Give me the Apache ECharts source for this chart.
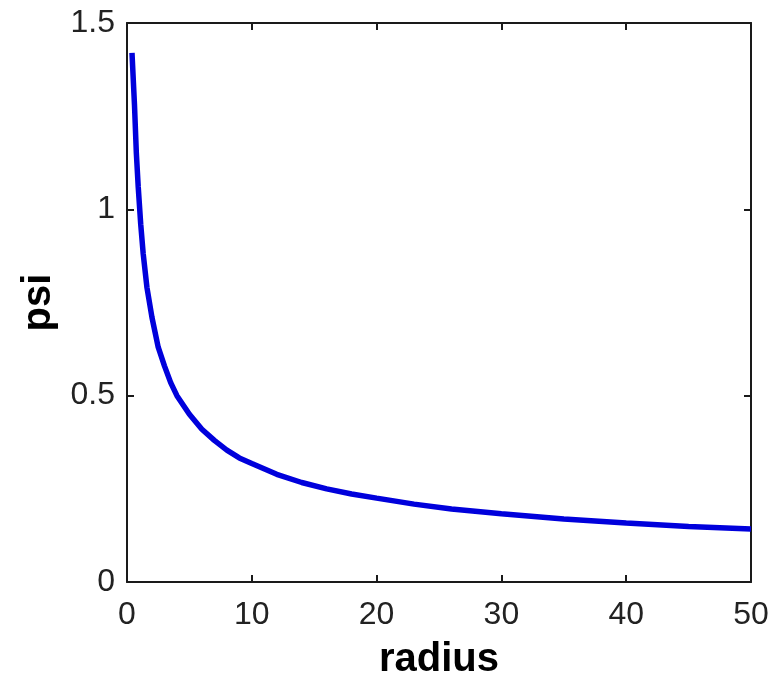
<!DOCTYPE html>
<html>
<head>
<meta charset="utf-8">
<script src="https://cdn.jsdelivr.net/npm/echarts@6/dist/echarts.min.js"></script>
<style>
html,body{margin:0;padding:0;background:#fff;}
#chart{width:773px;height:675px;}
</style>
</head>
<body>
<div id="chart"></div>
<script>
// Data
const radius = [0.4, 0.6, 0.75, 0.9, 1.1, 1.3, 1.6, 2, 2.5, 3, 3.5, 4, 5, 6, 7, 8, 9, 10, 12, 14, 16, 18, 20, 23, 26, 30, 35, 40, 45, 50];
const psi    = [1.42, 1.28, 1.15, 1.06, 0.96, 0.88, 0.79, 0.71, 0.63, 0.58, 0.535, 0.5, 0.45, 0.41, 0.38, 0.354, 0.333, 0.318, 0.289, 0.267, 0.25, 0.236, 0.225, 0.209, 0.196, 0.183, 0.169, 0.158, 0.149, 0.142];
const xTicks = [0, 10, 20, 30, 40, 50];
const yTicks = [0, 0.5, 1, 1.5];
const xName = 'radius';
const yName = 'psi';

const xMin = xTicks[0], xMax = xTicks[xTicks.length - 1], xInt = xTicks[1] - xTicks[0];
const yMin = yTicks[0], yMax = yTicks[yTicks.length - 1], yInt = yTicks[1] - yTicks[0];

const axisLine = { show: true, onZero: false, lineStyle: { color: '#1a1a1a', width: 2 } };
const tickStyle = { show: true, inside: true, length: 7, lineStyle: { color: '#1a1a1a', width: 2 } };
const labelStyle = { fontFamily: '"Liberation Sans", Arial, sans-serif', fontSize: 32, color: '#222' };
const nameStyle = { fontFamily: '"Liberation Sans", Arial, sans-serif', fontSize: 40, fontWeight: 'bold', color: '#000' };

const chart = echarts.init(document.getElementById('chart'), null, { renderer: 'canvas' });
chart.setOption({
  animation: false,
  backgroundColor: '#fff',
  grid: { left: 127, right: 22, top: 23, bottom: 93, containLabel: false, outerBoundsMode: 'none' },
  xAxis: [
    { type: 'value', position: 'bottom', min: xMin, max: xMax, interval: xInt,
      axisLine: axisLine, axisTick: tickStyle, splitLine: { show: false },
      axisLabel: Object.assign({ margin: 17 }, labelStyle),
      name: xName, nameLocation: 'middle', nameGap: 58, nameTextStyle: nameStyle },
    { type: 'value', position: 'top', min: xMin, max: xMax, interval: xInt,
      axisLine: axisLine, axisTick: tickStyle, splitLine: { show: false },
      axisLabel: { show: false } }
  ],
  yAxis: [
    { type: 'value', position: 'left', min: yMin, max: yMax, interval: yInt,
      axisLine: axisLine, axisTick: tickStyle, splitLine: { show: false },
      axisLabel: Object.assign({ margin: 12 }, labelStyle),
      name: yName, nameLocation: 'middle', nameGap: 68, nameRotate: 90, nameTextStyle: nameStyle },
    { type: 'value', position: 'right', min: yMin, max: yMax, interval: yInt,
      axisLine: axisLine, axisTick: tickStyle, splitLine: { show: false },
      axisLabel: { show: false } }
  ],
  series: [{
    type: 'line',
    xAxisIndex: 0, yAxisIndex: 0,
    data: radius.map((r, i) => [r, psi[i]]),
    showSymbol: false,
    smooth: false,
    lineStyle: { color: '#0000dc', width: 5.5 },
    itemStyle: { color: '#0000dc' }
  }]
});
</script>
</body>
</html>
